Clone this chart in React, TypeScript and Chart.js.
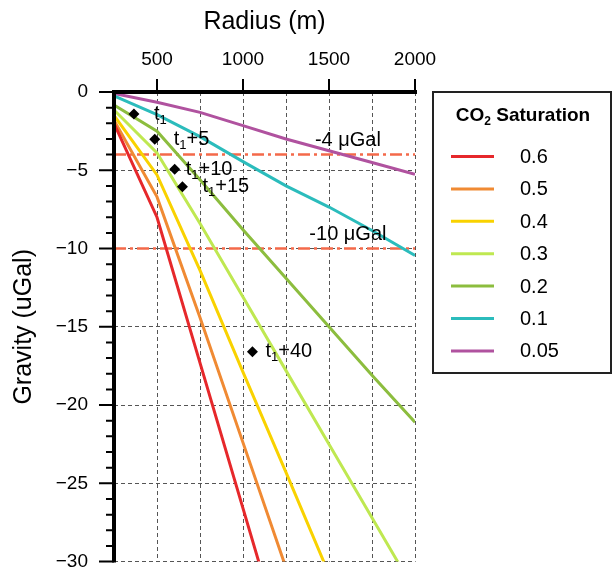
import React, { useEffect, useRef } from 'react';
import { Chart, registerables } from 'chart.js';

Chart.register(...registerables);

const FONT = "'Liberation Sans', Arial, Helvetica, sans-serif";

// Radius (m) at which gravity values are given
const radii = [250, 500, 750, 1000, 1250, 1500, 1750, 2000];

// Gravity change (uGal) per CO2 saturation
const sat06 = [-2.0, -8.0, -17.3, -26.6, -35.9];
const sat05 = [-1.8, -6.7, -14.4, -22.4, -30.4];
const sat04 = [-1.5, -5.3, -11.4, -17.9, -24.3, -30.8];
const sat03 = [-1.15, -3.9, -8.4, -13.1, -17.8, -22.5, -27.2, -31.9];
const sat02 = [-0.83, -2.5, -5.6, -8.8, -11.9, -15.0, -18.1, -21.1];
const sat01 = [-0.25, -1.45, -2.85, -4.45, -6.0, -7.35, -8.85, -10.45];
const sat005 = [-0.1, -0.65, -1.3, -2.15, -3.0, -3.75, -4.5, -5.25];

const seriesValues = [sat06, sat05, sat04, sat03, sat02, sat01, sat005];
const saturationLabels = ['0.6', '0.5', '0.4', '0.3', '0.2', '0.1', '0.05'];
const seriesColors = ['#e6282b', '#f08a33', '#f9d200', '#bfe851', '#8cbd3e', '#2bbcbc', '#b0529f'];

// Time markers
const markerX = [366, 487, 603, 648, 1055];
const markerY = [-1.41, -3.02, -4.94, -6.05, -16.6];
const markerSuffix = ['', '+5', '+10', '+15', '+40'];
const markerLabelDx = [20, 19, 11, 20, 13];

// Detection thresholds
const refLevels = [-4, -10];
const refLabels = ['-4 \u03bcGal', '-10 \u03bcGal'];
const refLabelX = 1610;

const xLabelValues = [500, 1000, 1500, 2000];

const decorPlugin = {
  id: 'decor',
  afterDraw(chart: any) {
    const { ctx, chartArea: ca, scales } = chart;
    const xs = scales.x;
    const ys = scales.y;
    ctx.save();

    // threshold labels
    ctx.fillStyle = '#000';
    ctx.font = `20px ${FONT}`;
    ctx.textAlign = 'center';
    ctx.textBaseline = 'middle';
    refLevels.forEach((lv, i) => {
      ctx.fillText(refLabels[i], xs.getPixelForValue(refLabelX), ys.getPixelForValue(lv) - 14);
    });

    // marker labels
    ctx.textAlign = 'left';
    markerX.forEach((mx, i) => {
      let px = xs.getPixelForValue(mx) + markerLabelDx[i];
      const py = ys.getPixelForValue(markerY[i]);
      ctx.font = `20px ${FONT}`;
      ctx.fillText('t', px, py);
      px += ctx.measureText('t').width;
      ctx.font = `13px ${FONT}`;
      ctx.fillText('1', px, py + 6);
      px += ctx.measureText('1').width;
      ctx.font = `20px ${FONT}`;
      ctx.fillText(markerSuffix[i], px, py);
    });

    // axis lines
    ctx.strokeStyle = '#000';
    ctx.lineWidth = 4;
    ctx.beginPath();
    ctx.moveTo(ca.left - 2, ca.top);
    ctx.lineTo(ca.right + 2, ca.top);
    ctx.moveTo(ca.left, ca.top - 2);
    ctx.lineTo(ca.left, ca.bottom + 1);
    ctx.stroke();

    // tick marks
    ctx.lineWidth = 2;
    ctx.beginPath();
    for (let v = 0; v >= -30; v--) {
      const p = ys.getPixelForValue(v);
      const len = v % 5 === 0 ? 13 : 6;
      ctx.moveTo(ca.left - 2 - len, p);
      ctx.lineTo(ca.left, p);
    }
    xLabelValues.forEach((v) => {
      const p = xs.getPixelForValue(v);
      ctx.moveTo(p, ca.top - 13);
      ctx.lineTo(p, ca.top);
    });
    ctx.stroke();

    // legend
    const lx = 433, ly = 92, lw = 178, lh = 281;
    ctx.lineWidth = 2;
    ctx.strokeStyle = '#222';
    ctx.strokeRect(lx, ly, lw, lh);

    ctx.fillStyle = '#000';
    ctx.textBaseline = 'middle';
    ctx.textAlign = 'left';
    const big = `bold 19px ${FONT}`;
    const small = `bold 12px ${FONT}`;
    ctx.font = big;
    const wCO = ctx.measureText('CO').width;
    const wRest = ctx.measureText(' Saturation').width;
    ctx.font = small;
    const w2 = ctx.measureText('2').width;
    const total = wCO + w2 + wRest;
    let tx = lx + lw / 2 - total / 2 + 1;
    const ty = 116;
    ctx.font = big;
    ctx.fillText('CO', tx, ty);
    tx += wCO;
    ctx.font = small;
    ctx.fillText('2', tx, ty + 6);
    tx += w2;
    ctx.font = big;
    ctx.fillText(' Saturation', tx, ty);

    const items = chart.data.datasets.filter((d: any) => d.legendLabel);
    ctx.font = `20px ${FONT}`;
    items.forEach((d: any, i: number) => {
      const y = 156.5 + i * 32.4;
      ctx.strokeStyle = d.borderColor;
      ctx.lineWidth = 3;
      ctx.beginPath();
      ctx.moveTo(451, y);
      ctx.lineTo(494, y);
      ctx.stroke();
      ctx.fillText(d.legendLabel, 520, y + 1);
    });

    ctx.restore();
  },
};

export default function App() {
  const canvasRef = useRef<HTMLCanvasElement | null>(null);

  useEffect(() => {
    if (!canvasRef.current) return;

    const markerDataset = {
      data: markerX.map((x, i) => ({ x, y: markerY[i] })),
      showLine: false,
      pointStyle: 'rectRot',
      pointRadius: 5.5,
      pointBackgroundColor: '#000',
      pointBorderColor: '#000',
      pointBorderWidth: 0,
      borderColor: '#000',
    };

    const seriesDatasets = seriesValues.map((vals, i) => ({
      legendLabel: saturationLabels[i],
      data: vals.map((y, j) => ({ x: radii[j], y })),
      borderColor: seriesColors[i],
      backgroundColor: seriesColors[i],
      borderWidth: 3,
      pointRadius: 0,
      tension: 0,
      fill: false,
    }));

    const refDatasets = refLevels.map((lv) => ({
      data: [
        { x: radii[0], y: lv },
        { x: radii[radii.length - 1], y: lv },
      ],
      borderColor: '#f4694a',
      borderWidth: 2.5,
      borderDash: [12, 4, 3, 4],
      pointRadius: 0,
      fill: false,
    }));

    const chart = new Chart(canvasRef.current, {
      type: 'line',
      data: { datasets: [markerDataset, ...seriesDatasets, ...refDatasets] as any },
      options: {
        responsive: false,
        animation: false,
        devicePixelRatio: 1,
        layout: { padding: { left: 0, top: 0, right: 198, bottom: 11 } },
        plugins: { legend: { display: false }, tooltip: { enabled: false } },
        scales: {
          x: {
            type: 'linear',
            position: 'top',
            min: 250,
            max: 2000,
            afterFit: (s: any) => { s.height = 92; },
            ticks: {
              stepSize: 250,
              autoSkip: false,
              maxRotation: 0,
              padding: 0,
              color: '#000',
              font: { family: FONT, size: 19 },
              callback: (v: any) => (Number(v) % 500 === 0 ? String(v) : ''),
            },
            grid: { color: '#555', lineWidth: 1, drawTicks: true, tickLength: 21, tickColor: 'rgba(0,0,0,0)' },
            border: { display: false, dash: [4, 3] },
            title: {
              display: true,
              text: 'Radius (m)',
              color: '#000',
              font: { family: FONT, size: 25 },
              padding: { top: 7, bottom: 0 },
            },
          },
          y: {
            type: 'linear',
            min: -30,
            max: 0,
            afterFit: (s: any) => { s.width = 114; },
            ticks: {
              stepSize: 5,
              autoSkip: false,
              padding: 0,
              color: '#000',
              font: { family: FONT, size: 19 },
              callback: (v: any) => (Number(v) === 0 ? '0' : '\u2212' + Math.abs(Number(v))),
            },
            grid: { color: '#555', lineWidth: 1, drawTicks: true, tickLength: 26, tickColor: 'rgba(0,0,0,0)' },
            border: { display: false, dash: [4, 3] },
            title: {
              display: true,
              text: 'Gravity (uGal)',
              color: '#000',
              font: { family: FONT, size: 25 },
              padding: { top: 9, bottom: 0 },
            },
          },
        },
      },
      plugins: [decorPlugin],
    } as any);

    return () => chart.destroy();
  }, []);

  return (
    <div style={{ position: 'absolute', left: 0, top: 0, width: 613, height: 573, background: '#fff' }}>
      <canvas ref={canvasRef} width={613} height={573} style={{ width: 613, height: 573, display: 'block' }} />
    </div>
  );
}
